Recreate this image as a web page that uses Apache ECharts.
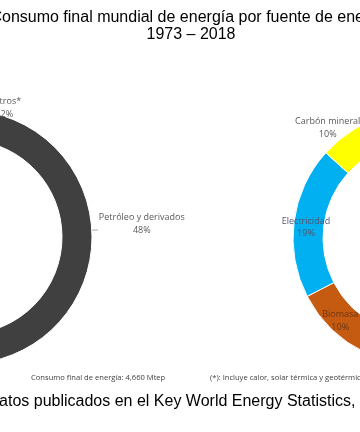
<!DOCTYPE html>
<html><head><meta charset="utf-8">
<script src="https://cdn.jsdelivr.net/npm/echarts@6/dist/echarts.min.js"></script>
<style>html,body{margin:0;padding:0;background:#fff}#c{width:360px;height:432px}</style>
</head><body><div id="c"></div>
<script>
// ---- data ----
const categories = ['Petróleo y derivados', 'Gas natural', 'Biomasa', 'Electricidad', 'Carbón mineral', 'Otros*'];
const values1973 = [48.3, 14.0, 13.1, 9.4, 13.5, 1.7];
const values2018 = [40.8, 16.2, 10.4, 19.3, 9.6, 3.7];
const titleLines = ['Consumo final mundial de energía por fuente de energía', '1973 – 2018'];
const noteLeft = 'Consumo final de energía: 4,660 Mtep';
const noteRight = '(*): Incluye calor, solar térmica y geotérmica';
const sourceText = 'Datos publicados en el Key World Energy Statistics, IEA 2020';

// ---- styles ----
const sliceColors = ['#404040', '#A5A5A5', '#C55A11', '#00B0F0', '#FFFF00', '#70AD47'];
const LBL_FONT = '"Open Sans", "Noto Sans", sans-serif';
const LBL_SIZE = 9;
const LBL_COLOR = '#595959';

function richLabel(color) {
  return {
    c: { align: 'center', fontFamily: LBL_FONT, fontSize: LBL_SIZE, color: color, lineHeight: 12.5 }
  };
}
function fmt(p) {
  return '{c|' + p.name + '}\n{c|' + Math.round(p.percent) + '%}';
}
// per-category label placement (Excel-like)
function labelFor(i) {
  const name = categories[i];
  if (name === 'Biomasa') {
    return { position: 'inside', rich: richLabel('#6e3512') };
  }
  if (name === 'Electricidad') {
    return { position: 'inside', rich: richLabel('#4d5670') };
  }
  if (name === 'Otros*') {
    return { position: 'inside', rich: richLabel(LBL_COLOR) };
  }
  if (name === 'Carbón mineral') {
    return { position: 'outside', distanceToLabelLine: -5, padding: [0, 0, 1, 0], rich: richLabel(LBL_COLOR) };
  }
  if (name === 'Petróleo y derivados') {
    return { position: 'outside', distanceToLabelLine: 1, padding: [0, 0, 12, 0], rich: richLabel(LBL_COLOR) };
  }
  return { position: 'outside', rich: richLabel(LBL_COLOR) };
}
function lineFor(i) {
  const name = categories[i];
  if (name === 'Petróleo y derivados') {
    return { show: true, length: 6, length2: 0, lineStyle: { color: '#8c8c8c', width: 0.8 } };
  }
  return { show: false, length: 0, length2: 0 };
}
function buildData(values) {
  return values.map((v, i) => ({
    name: categories[i],
    value: v,
    itemStyle: { color: sliceColors[i] },
    label: labelFor(i),
    labelLine: lineFor(i)
  }));
}
function pieSeries(values, center) {
  return {
    type: 'pie',
    center: center,
    radius: [97, 127],
    startAngle: 90,
    clockwise: true,
    avoidLabelOverlap: false,
    silent: true,
    itemStyle: { borderColor: '#ffffff', borderWidth: 1 },
    label: { show: true, formatter: fmt },
    labelLayout: function (p) {
      const name = categories[p.dataIndex];
      if (name === 'Otros*') return { dx: 48, dy: -14 };
      if (name === 'Electricidad') return { dy: 4 };
    },
    data: buildData(values)
  };
}

const chart = echarts.init(document.getElementById('c'), null, { renderer: 'canvas' });
chart.setOption({
  animation: false,
  backgroundColor: '#ffffff',
  series: [
    pieSeries(values1973, [-35, 237]),
    pieSeries(values2018, [420, 238])
  ],
  graphic: [
    { type: 'text', x: 191, y: 18, style: { text: titleLines[0], font: '16px "Liberation Sans", Arial, sans-serif', fill: '#000', textAlign: 'center', textVerticalAlign: 'middle' } },
    { type: 'text', x: 191, y: 35, style: { text: titleLines[1], font: '16px "Liberation Sans", Arial, sans-serif', fill: '#000', textAlign: 'center', textVerticalAlign: 'middle' } },
    { type: 'text', x: 31, y: 378, style: { text: noteLeft, font: '7.6px "Open Sans", sans-serif', fill: '#404040', textAlign: 'left', textVerticalAlign: 'middle' } },
    { type: 'text', x: 210, y: 378, style: { text: noteRight, font: '7.6px "Open Sans", sans-serif', fill: '#404040', textAlign: 'left', textVerticalAlign: 'middle' } },
    { type: 'text', x: -12.5, y: 402, style: { text: sourceText, font: '16px "Liberation Sans", Arial, sans-serif', fill: '#000', textAlign: 'left', textVerticalAlign: 'middle' } }
  ]
});
</script>
</body></html>
